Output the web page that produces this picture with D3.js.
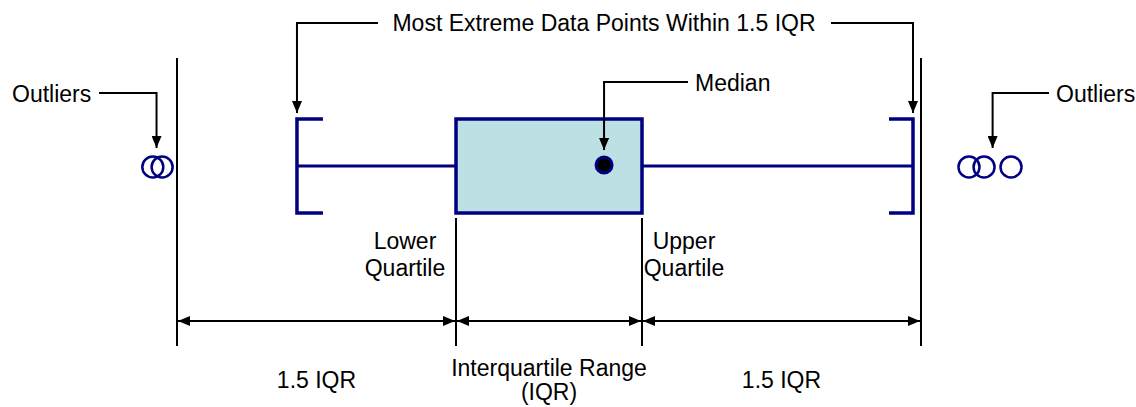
<!DOCTYPE html>
<html>
<head>
<meta charset="utf-8">
<script src="https://cdn.jsdelivr.net/npm/d3@7"></script>
<style>
  body { margin: 0; background: #fff; }
  text { font-family: "Liberation Sans", Arial, sans-serif; font-size: 23px; fill: #000; }
</style>
</head>
<body>
<div id="chart"></div>
<script>
// box plot values (IQR = 10)
const quartiles = [20, 27.96, 30];          // Q1, median, Q3
const whiskers = [11.45, 44.57];             // most extreme points within 1.5 IQR
const fences = [5, 45];                      // Q1 - 1.5 IQR, Q3 + 1.5 IQR
const lowOutliers = [3.7, 4.2];
const highOutliers = [47.58, 48.39, 49.84];
const outlierPointers = [3.9, 48.85];
const spanLabels = [["1.5 IQR"], ["Interquartile Range", "(IQR)"], ["1.5 IQR"]];

const width = 1136, height = 407;
const navy = '#000080';
const cy = 166, boxH = 94;

const svg = d3.select('#chart').append('svg')
    .attr('width', width)
    .attr('height', height);

const x = d3.scaleLinear().domain(fences).range([177, 921]);

const defs = svg.append('defs');
defs.append('marker')
    .attr('id', 'arrow')
    .attr('viewBox', '0 0 12 10')
    .attr('refX', 12).attr('refY', 5)
    .attr('markerWidth', 12).attr('markerHeight', 10)
    .attr('markerUnits', 'userSpaceOnUse')
    .attr('orient', 'auto-start-reverse')
    .append('path')
    .attr('d', 'M0,0 L12,5 L0,10 Z')
    .attr('fill', '#000');

// vertical reference lines at fences and quartiles
const refs = [fences[0], quartiles[0], quartiles[2], fences[1]];
svg.selectAll('line.ref')
    .data(refs)
    .enter().append('line')
    .attr('class', 'ref')
    .attr('x1', d => x(d)).attr('x2', d => x(d))
    .attr('y1', (d, i) => (i === 0 || i === 3) ? 58 : 218)
    .attr('y2', 346)
    .attr('stroke', '#000').attr('stroke-width', 2);

// dimension arrows
const spans = d3.pairs(refs);
svg.selectAll('line.span')
    .data(spans)
    .enter().append('line')
    .attr('class', 'span')
    .attr('x1', d => x(d[0]) + 1).attr('x2', d => x(d[1]) - 1)
    .attr('y1', 321).attr('y2', 321)
    .attr('stroke', '#000').attr('stroke-width', 2)
    .attr('marker-start', 'url(#arrow)')
    .attr('marker-end', 'url(#arrow)');

const spanText = svg.selectAll('text.span')
    .data(spans)
    .enter().append('text')
    .attr('class', 'span')
    .attr('text-anchor', 'middle')
    .attr('y', (d, i) => spanLabels[i].length > 1 ? 376 : 388);
spanText.selectAll('tspan')
    .data((d, i) => spanLabels[i].map(t => ({ t, cx: (x(d[0]) + x(d[1])) / 2 })))
    .enter().append('tspan')
    .attr('x', d => d.cx)
    .attr('dy', (d, i) => i ? 24 : 0)
    .text(d => d.t);

// whisker line
svg.append('line')
    .attr('x1', x(whiskers[0])).attr('x2', x(whiskers[1]))
    .attr('y1', cy).attr('y2', cy)
    .attr('stroke', navy).attr('stroke-width', 3);

// whisker brackets
svg.selectAll('path.bracket')
    .data(whiskers)
    .enter().append('path')
    .attr('class', 'bracket')
    .attr('d', (d, i) => {
        const px = x(d), cap = i === 0 ? 26 : -24;
        return `M${px + cap},${cy - boxH / 2} H${px} V${cy + boxH / 2} H${px + cap}`;
    })
    .attr('fill', 'none')
    .attr('stroke', navy).attr('stroke-width', 3.5);

// box
svg.append('rect')
    .attr('x', x(quartiles[0])).attr('y', cy - boxH / 2)
    .attr('width', x(quartiles[2]) - x(quartiles[0]))
    .attr('height', boxH)
    .attr('fill', '#bde0e4')
    .attr('stroke', navy).attr('stroke-width', 3.5);

// median
svg.append('circle')
    .attr('cx', x(quartiles[1])).attr('cy', cy - 1)
    .attr('r', 8)
    .attr('fill', '#000')
    .attr('stroke', navy).attr('stroke-width', 3);

// outliers
svg.selectAll('circle.out')
    .data(lowOutliers.concat(highOutliers))
    .enter().append('circle')
    .attr('class', 'out')
    .attr('cx', d => x(d)).attr('cy', cy + 1)
    .attr('r', 10.5)
    .attr('fill', 'none')
    .attr('stroke', navy).attr('stroke-width', 2.5);

// annotations
function callout(d) {
    svg.append('path')
        .attr('d', d)
        .attr('fill', 'none')
        .attr('stroke', '#000').attr('stroke-width', 2)
        .attr('marker-end', 'url(#arrow)');
}
callout(`M378,23 H${x(whiskers[0])} V113`);
callout(`M831,23 H${x(whiskers[1])} V113`);
callout(`M688,82 H${x(quartiles[1])} V150`);
callout(`M99,93 H${x(outlierPointers[0])} V148`);
callout(`M1049,93 H${x(outlierPointers[1])} V148`);

svg.append('text').attr('x', 604).attr('y', 31).attr('text-anchor', 'middle')
    .text('Most Extreme Data Points Within 1.5 IQR');
svg.append('text').attr('x', 695).attr('y', 91).text('Median');
svg.append('text').attr('x', 12).attr('y', 102).text('Outliers');
svg.append('text').attr('x', 1056).attr('y', 102).text('Outliers');

const quartLabels = [
    { cx: 405, lines: ['Lower', 'Quartile'] },
    { cx: 684, lines: ['Upper', 'Quartile'] }
];
const ql = svg.selectAll('text.q')
    .data(quartLabels)
    .enter().append('text')
    .attr('class', 'q')
    .attr('text-anchor', 'middle')
    .attr('y', 249);
ql.selectAll('tspan')
    .data(d => d.lines.map(t => ({ t, cx: d.cx })))
    .enter().append('tspan')
    .attr('x', d => d.cx)
    .attr('dy', (d, i) => i ? 27 : 0)
    .text(d => d.t);
</script>
</body>
</html>
